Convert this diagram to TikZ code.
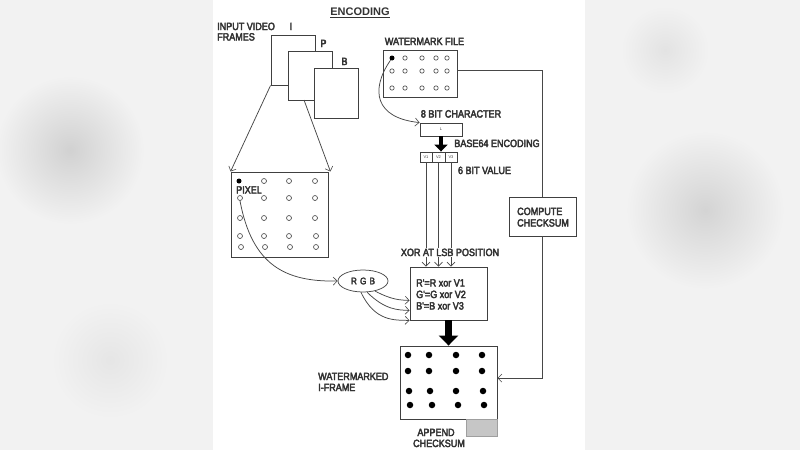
\documentclass[tikz,border=0pt]{standalone}
\usepackage{fontspec}
\setmainfont{Liberation Sans}
\newfontfamily\lblfont[FakeStretch=0.86,FakeBold=3.5]{Liberation Sans}
\usetikzlibrary{arrows.meta,shapes.geometric,calc}
\begin{document}
\begin{tikzpicture}[x=1pt,y=-1pt,
  lbl/.style={font=\lblfont\fontsize{10.5}{12}\selectfont, inner sep=0pt, text=black!80},
  tinytxt/.style={font=\fontsize{4}{4}\selectfont, text=black!75},
  box/.style={draw=black!75, line width=0.9pt, fill=white, inner sep=0pt},
  conn/.style={draw=black!72, line width=0.75pt},
  openarr/.style={-{Straight Barb[length=4pt,width=8pt,line width=0.6pt]}},
  odot/.style={circle, draw=black!70, line width=0.65pt, minimum size=5pt, inner sep=0pt},
  fdot/.style={circle, fill=black, minimum size=6.5pt, inner sep=0pt},
  fatarrow/.style={line width=4pt, black, -{Triangle[length=7pt,width=13pt]}},
  bigarrow/.style={line width=7pt, black, -{Triangle[length=10pt,width=19pt]}}
]
\useasboundingbox (0,0) rectangle (800,450);
% background
\fill[gray!10] (0,0) rectangle (800,450);
\shade[inner color=gray!36, outer color=gray!10] (70,150) circle (75);
\shade[inner color=gray!34, outer color=gray!10] (705,210) circle (80);
\shade[inner color=gray!22, outer color=gray!10] (665,50) circle (45);
\shade[inner color=gray!20, outer color=gray!10] (110,360) circle (60);
\fill[white] (213,0) rectangle (585,450);

% title
\node[lbl, font=\fontsize{11}{12}\bfseries, anchor=base] (title) at (360,15.5) {\underline{ENCODING}};

% input frames
\node[lbl, anchor=base west] (inA) at (217,30) {INPUT VIDEO};
\node[lbl, anchor=base west] (inB) at (217,40.5) {FRAMES};
\node[lbl, anchor=base] (lI) at (291,30) {I};
\node[lbl, anchor=base] (lP) at (323.5,47) {P};
\node[lbl, anchor=base] (lB) at (344.5,65) {B};
\node[box, minimum width=44pt, minimum height=50pt] (frameI) at (293,60) {};
\node[box, minimum width=44pt, minimum height=49pt] (frameP) at (310,75.5) {};
\node[box, minimum width=44pt, minimum height=50pt] (frameB) at (336,93) {};
\coordinate (pbot) at (304,100);

% pixel grid
\node[box, fill=none, minimum width=97pt, minimum height=85pt] (pix) at (279.5,214.5) {};
\draw[conn, openarr] (frameI.south west) -- (pix.north west);
\draw[conn, openarr] (pbot) -- ($(pix.north east)+(2,0)$);
\node[fdot, minimum size=5pt] (p0) at (239,181) {};
\foreach \x/\y [count=\i] in {264/181,289/181,315/181,
  264/198,289/198,315/198,
  240/218,264/218,289/218,315/218,
  240/236,264/236,289/236,316/236,
  241/247,265/247,290/247,316/247}
  \node[odot] (pd\i) at (\x,\y) {};
\node[odot] (pixsel) at (240,198) {};
\node[lbl, anchor=base west] (lpix) at (236,193.5) {PIXEL};

% RGB
\node[ellipse, draw=black!70, line width=0.75pt, minimum width=50pt, minimum height=22pt, inner sep=0pt,
  font=\lblfont\fontsize{9.5}{10}\selectfont, text=black!80] (rgb) at (363,281) {R\,\,G\,\,B};
\draw[conn, openarr] (pixsel.south) .. controls (252,265) and (285,282) .. (rgb.west);

% watermark file
\node[lbl, anchor=base] (lwm) at (424.5,45) {WATERMARK FILE};
\node[box, minimum width=74pt, minimum height=47pt] (wmfile) at (420,73.5) {};
\node[fdot, minimum size=5pt] (w0) at (392,58) {};
\foreach \x/\y [count=\i] in {405/58,422/58,436/58,447/58,
  392/71,405/71,422/71,436/71,447/71,
  392/88,405/88,422/88,436/88,447/88}
  \node[odot, minimum size=4.4pt] (wd\i) at (\x,\y) {};

% 8 bit character
\node[lbl, anchor=base] (l8) at (461,117.5) {8 BIT CHARACTER};
\node[box, minimum width=42pt, minimum height=13pt, tinytxt] (char8) at (441,129.5) {L};
\draw[conn, openarr] (w0) .. controls (370,90) and (375,118) .. (char8.north west);
\node[lbl, anchor=base] (lb64) at (497,147) {BASE64 ENCODING};

% V boxes
\node[box, minimum width=12pt, minimum height=10pt, tinytxt] (v1) at (426,157) {V1};
\node[box, minimum width=13pt, minimum height=10pt, tinytxt] (v2) at (438.5,157) {V2};
\node[box, minimum width=12pt, minimum height=10pt, tinytxt] (v3) at (451,157) {V3};
\draw[fatarrow] (char8.south) -- (char8.south |- v2.north);
\node[lbl, anchor=base] (l6) at (484.5,174) {6 BIT VALUE};

% XOR box
\node[box, minimum width=77pt, minimum height=53pt] (xor) at (448.5,293.5) {};
\draw[conn, openarr] (v1.south) -- (v1.south |- xor.north);
\draw[conn, openarr] (v2.south) -- (v2.south |- xor.north);
\draw[conn, openarr] (v3.south) -- (v3.south |- xor.north);
\node[lbl, anchor=base, fill=white, inner sep=1pt] (lxor) at (450,256) {XOR AT LSB POSITION};
\node[lbl, anchor=base west] (x1) at (416,286.5) {R'=R xor V1};
\node[lbl, anchor=base west] (x2) at (416,298) {G'=G xor V2};
\node[lbl, anchor=base west] (x3) at (416,309.5) {B'=B xor V3};
\draw[conn, openarr] (rgb.-40) .. controls (392,300) and (400,300) .. ($(xor.south west)+(0,-20)$);
\draw[conn, openarr] (rgb.-70) .. controls (385,310) and (398,310) .. ($(xor.south west)+(0,-10)$);
\draw[conn, openarr] (rgb.-100) .. controls (375,322) and (395,320) .. (xor.south west);

% watermarked frame
\node[box, minimum width=97pt, minimum height=73pt] (wframe) at (448.5,382.5) {};
\draw[bigarrow] (xor.south) -- (xor.south |- wframe.north);
\foreach \x/\y [count=\i] in {408/355,429/355,456/355,482/355,
  408/371,429/371,456/371,482/371,
  409/391,430/391,456/391,483/391,
  410/405,432/405,458/405,484/405}
  \node[fdot] (fd\i) at (\x,\y) {};
\node[lbl, anchor=base west] (lwf1) at (318,380) {WATERMARKED};
\node[lbl, anchor=base west] (lwf2) at (318,391) {I-FRAME};
\node[draw=gray!75, fill=gray!45, line width=0.8pt, minimum width=31pt, minimum height=17pt, inner sep=0pt] (ck) at (481.5,427.5) {};
\node[lbl, anchor=base] (lap1) at (436,436) {APPEND};
\node[lbl, anchor=base] (lap2) at (439,447) {CHECKSUM};

% compute checksum
\node[box, minimum width=67pt, minimum height=39pt] (cs) at (542.5,216.5) {};
\node[lbl, anchor=base west] (lcs1) at (517,215) {COMPUTE};
\node[lbl, anchor=base west] (lcs2) at (517,226.5) {CHECKSUM};
\coordinate (wmR) at ($(wmfile.north east)!0.43!(wmfile.south east)$);
\coordinate (wfR) at ($(wframe.north east)!0.44!(wframe.south east)$);
\draw[conn] (wmR) -| (cs.north);
\draw[conn, openarr] (cs.south) |- (wfR);
\end{tikzpicture}
\end{document}
